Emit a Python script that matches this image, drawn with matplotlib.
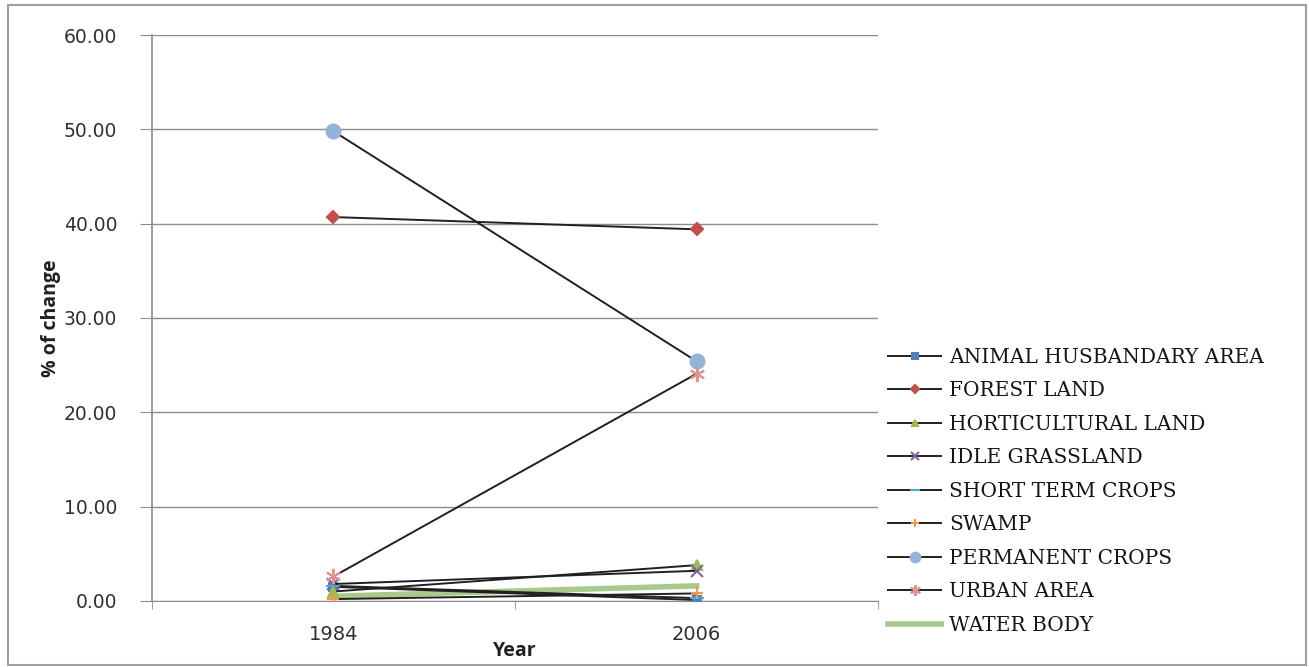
import matplotlib.pyplot as plt
from matplotlib.patches import Rectangle

years = ["1984", "2006"]
series_names = [
    "ANIMAL HUSBANDARY AREA", "FOREST LAND", "HORTICULTURAL LAND",
    "IDLE GRASSLAND", "SHORT TERM CROPS", "SWAMP", "PERMANENT CROPS",
    "URBAN AREA", "WATER BODY",
]
animal = [1.5, 0.1]
forest = [40.7, 39.4]
horti = [1.0, 3.8]
idle = [1.8, 3.2]
short_term = [1.6, 0.3]
swamp = [0.2, 0.8]
permanent = [49.8, 25.4]
urban = [2.6, 24.1]
water = [0.5, 1.6]

values = [animal, forest, horti, idle, short_term, swamp, permanent, urban, water]
markers = ["s", "D", "^", "x", "_", "+", "o", (6, 2, 0), None]
mcolors = ["#4F81BD", "#C0504D", "#9BBB59", "#8064A2", "#4BACC6",
           "#F79646", "#95B3D7", "#D99694", "#9BBB59"]
msizes = [6, 6, 7, 8, 10, 9, 10, 11, 0]

fig = plt.figure(figsize=(13.09, 6.67), dpi=100)
fig.patches.append(Rectangle((0.006, 0.003), 0.992, 0.99, transform=fig.transFigure,
                             fill=False, edgecolor="#A0A0A0", linewidth=1.5))
ax = fig.add_axes([0.116, 0.099, 0.555, 0.8485])

x = list(range(len(years)))
for name, vals, m, c, ms in zip(series_names, values, markers, mcolors, msizes):
    if m is None:
        ax.plot(x, vals, color="#A8C98A", linewidth=4, label=name, zorder=2)
    else:
        ax.plot(x, vals, color="#202020", linewidth=1.4, marker=m, markersize=ms,
                markerfacecolor=c, markeredgecolor=c, markeredgewidth=1.5,
                label=name, zorder=3)

ax.set_xlim(-0.5, 1.5)
ax.set_ylim(0, 60)
ax.set_yticks(range(0, 61, 10))
ax.set_yticklabels([f"{v:.2f}" for v in range(0, 61, 10)])
ax.yaxis.grid(True, color="#8C8C8C", linewidth=1)
ax.set_axisbelow(True)
ax.set_xticks(x)
ax.set_xticklabels(years)
ax.set_xticks([-0.5, 0.5, 1.5], minor=True)
ax.tick_params(axis="x", which="major", length=0, pad=17, labelsize=14, labelcolor="#303030")
ax.tick_params(axis="x", which="minor", length=6, color="#8C8C8C", direction="out")
ax.tick_params(axis="y", length=9, color="#8C8C8C", pad=16, labelsize=13.5, labelcolor="#303030")
for s in ["top", "right"]:
    ax.spines[s].set_visible(False)
ax.spines["left"].set_color("#8C8C8C")
ax.spines["bottom"].set_color("#8C8C8C")
ax.spines["left"].set_linewidth(1.2)

ax.set_xlabel("Year", fontsize=14, fontweight="bold", family="Open Sans", labelpad=-2, color="#202020")
ax.set_ylabel("% of change", fontsize=14, fontweight="bold", family="Open Sans", labelpad=2, color="#202020")

leg = ax.legend(loc="upper left", bbox_to_anchor=(1.0138, 0.447), frameon=False,
                prop={"family": "DejaVu Serif", "size": 14.5}, handlelength=2.6,
                labelspacing=0.72, borderaxespad=0, borderpad=0, handletextpad=0.4,
                markerscale=0.7)
for t in leg.get_texts():
    t.set_color("#151515")

fig.savefig("out.png", dpi=100)
